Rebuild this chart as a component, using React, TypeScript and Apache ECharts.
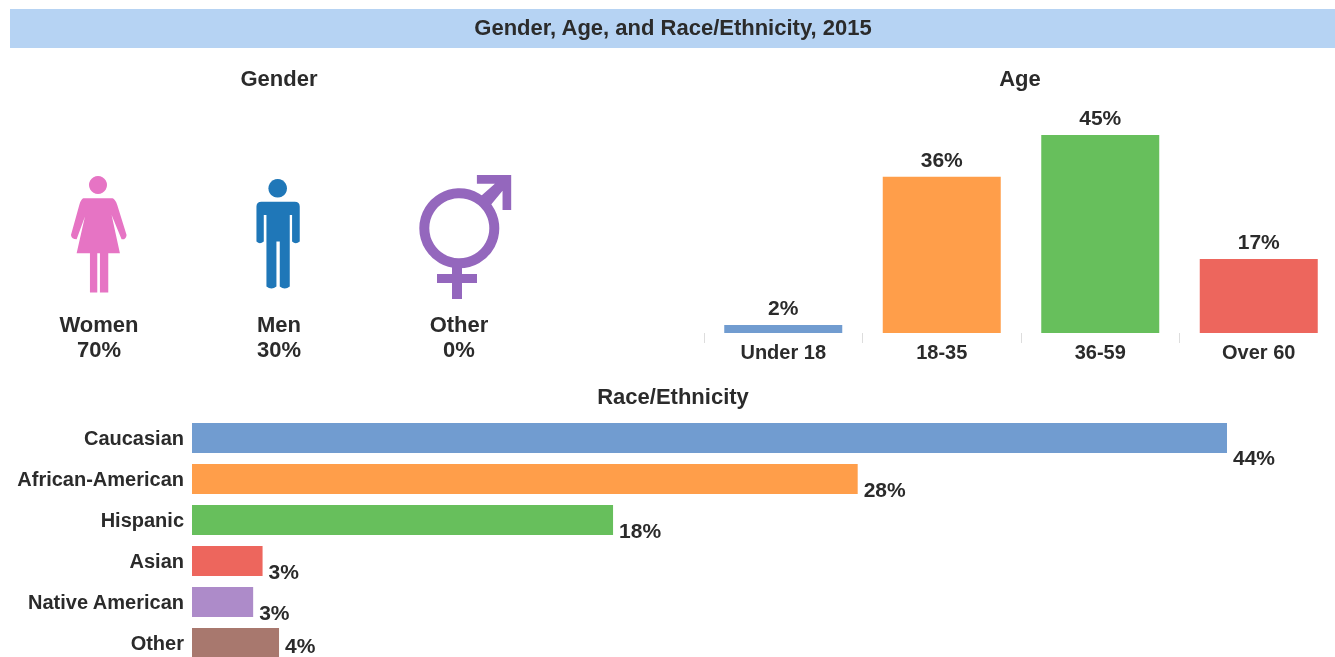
import React, { useEffect, useRef } from "react";
import * as echarts from "echarts";

const mainTitle = "Gender, Age, and Race/Ethnicity, 2015";
const sectionTitles = ["Gender", "Age", "Race/Ethnicity"];
const genderNames = ["Women", "Men", "Other"];
const genderShares = ["70%", "30%", "0%"];
const ageCategories = ["Under 18", "18-35", "36-59", "Over 60"];
const ageValues = [1.8, 35.5, 45, 16.8];
const ageLabels = ["2%", "36%", "45%", "17%"];
const raceCategories = ["Caucasian", "African-American", "Hispanic", "Asian", "Native American", "Other"];
const raceValues = [44, 28.3, 17.9, 3.0, 2.6, 3.7];
const raceLabels = ["44%", "28%", "18%", "3%", "3%", "4%"];
const palette = ["#719CD0", "#FF9E4A", "#67BF5C", "#ED665D", "#AD8BC9", "#A8786E"];

const FONT = "'Liberation Sans', Arial, sans-serif";
const TEXT = "#2b2b2b";

const WOMAN =
  "M130 115 L218 115 Q226 118 232 135 L260 225 Q258 240 245 238 L215 165 L240 280 L205 280 L205 398 L180 398 L180 280 L172 280 L172 398 L150 398 L150 280 L110 280 L135 170 L110 238 Q95 238 93 225 L118 135 Q123 118 130 115 Z";
const MAN =
  "M665 125 L765 125 Q780 125 780 140 L780 245 Q768 255 757 245 L757 165 L750 165 L750 380 Q735 392 720 380 L720 245 L710 245 L710 380 Q695 392 680 380 L680 165 L672 165 L672 245 Q660 255 650 245 L650 140 Q650 125 665 125 Z";
const ARROW =
  "M1312 45 L1415 45 L1415 150 L1389 150 L1389 92 L1350 140 L1320 112 L1366 71 L1312 71 Z";

echarts.graphic.registerShape("womanIcon", (echarts.graphic as any).extendPath(WOMAN, {}));
echarts.graphic.registerShape("manIcon", (echarts.graphic as any).extendPath(MAN, {}));
echarts.graphic.registerShape("arrowIcon", (echarts.graphic as any).extendPath(ARROW, {}));

const bold = (size: number, fill = TEXT) => ({ font: `bold ${size}px ${FONT}`, fill, textAlign: "center", textVerticalAlign: "middle" });
const centered = (text: string, x: number, y: number, size = 22) => ({
  type: "text", x, y, style: { text, ...bold(size) }, z: 10,
});

export default function App() {
  const ref = useRef<HTMLDivElement>(null);
  useEffect(() => {
    document.body.style.margin = "0";
    const chart = echarts.init(ref.current!, null, { renderer: "svg" });
    const gx = [99, 279, 459];
    const iconTransform = { x: 40, y: 160, scaleX: 1 / 3, scaleY: 1 / 3 };
    chart.setOption({
      animation: false,
      backgroundColor: "#ffffff",
      textStyle: { fontFamily: FONT },
      grid: [
        { left: 704, top: 113, width: 634, height: 220, containLabel: false },
        { left: 192, top: 417.5, width: 1035, height: 246, containLabel: false },
      ],
      xAxis: [
        {
          gridIndex: 0, type: "category", data: ageCategories,
          axisLine: { show: false },
          axisTick: { show: true, length: 10, lineStyle: { color: "#dddddd" } },
          axisLabel: { color: TEXT, fontWeight: "bold", fontSize: 20, fontFamily: FONT, margin: 9, interval: 0 },
        },
        { gridIndex: 1, type: "value", min: 0, max: 44, show: false },
      ],
      yAxis: [
        { gridIndex: 0, type: "value", min: 0, max: 50, show: false },
        {
          gridIndex: 1, type: "category", inverse: true, data: raceCategories,
          axisLine: { show: false }, axisTick: { show: false },
          axisLabel: { color: TEXT, fontWeight: "bold", fontSize: 20, fontFamily: FONT, margin: 8, interval: 0 },
        },
      ],
      series: [
        {
          type: "bar", xAxisIndex: 0, yAxisIndex: 0, barWidth: 118,
          data: ageValues.map((v, i) => ({ value: v, itemStyle: { color: palette[i] } })),
          label: {
            show: true, position: "top", distance: 7,
            color: TEXT, fontWeight: "bold", fontSize: 21, fontFamily: FONT,
            formatter: (p: any) => ageLabels[p.dataIndex],
          },
        },
        {
          type: "bar", xAxisIndex: 1, yAxisIndex: 1, barWidth: 30,
          data: raceValues.map((v, i) => ({
            value: v,
            itemStyle: { color: palette[i] },
            label: { offset: [1, i === 0 ? 19 : i === 5 ? 2 : 10] },
          })),
          label: {
            show: true, position: "right", distance: 5,
            color: TEXT, fontWeight: "bold", fontSize: 21, fontFamily: FONT,
            formatter: (p: any) => raceLabels[p.dataIndex],
          },
        },
      ],
      graphic: [
        { type: "rect", shape: { x: 10, y: 9, width: 1325, height: 39 }, style: { fill: "#B6D3F3" }, z: 1 },
        centered(mainTitle, 673, 27),
        centered(sectionTitles[0], 279, 78),
        centered(sectionTitles[1], 1020, 78),
        centered(sectionTitles[2], 673, 396),
        ...genderNames.flatMap((n, i) => [centered(n, gx[i], 324), centered(genderShares[i], gx[i], 349)]),
        { type: "circle", shape: { cx: 98, cy: 185, r: 9 }, style: { fill: "#E674C4" }, z: 5 },
        { type: "womanIcon", ...iconTransform, style: { fill: "#E674C4" }, z: 5 },
        { type: "circle", shape: { cx: 277.7, cy: 188.3, r: 9.3 }, style: { fill: "#1F77B8" }, z: 5 },
        { type: "manIcon", ...iconTransform, style: { fill: "#1F77B8" }, z: 5 },
        { type: "circle", shape: { cx: 459.3, cy: 228.3, r: 35, }, style: { fill: "none", stroke: "#9467BD", lineWidth: 10 }, z: 5 },
        { type: "arrowIcon", ...iconTransform, style: { fill: "#9467BD" }, z: 5 },
        { type: "rect", shape: { x: 452, y: 266, width: 10, height: 33 }, style: { fill: "#9467BD" }, z: 5 },
        { type: "rect", shape: { x: 437, y: 274, width: 40, height: 9 }, style: { fill: "#9467BD" }, z: 5 },
      ],
    });
    return () => chart.dispose();
  }, []);
  return (
    <div style={{ position: "absolute", left: 0, top: 0, width: 1335, height: 657, overflow: "hidden" }}>
      <div ref={ref} style={{ width: 1360, height: 680, filter: "blur(0.5px)" }} />
    </div>
  );
}
